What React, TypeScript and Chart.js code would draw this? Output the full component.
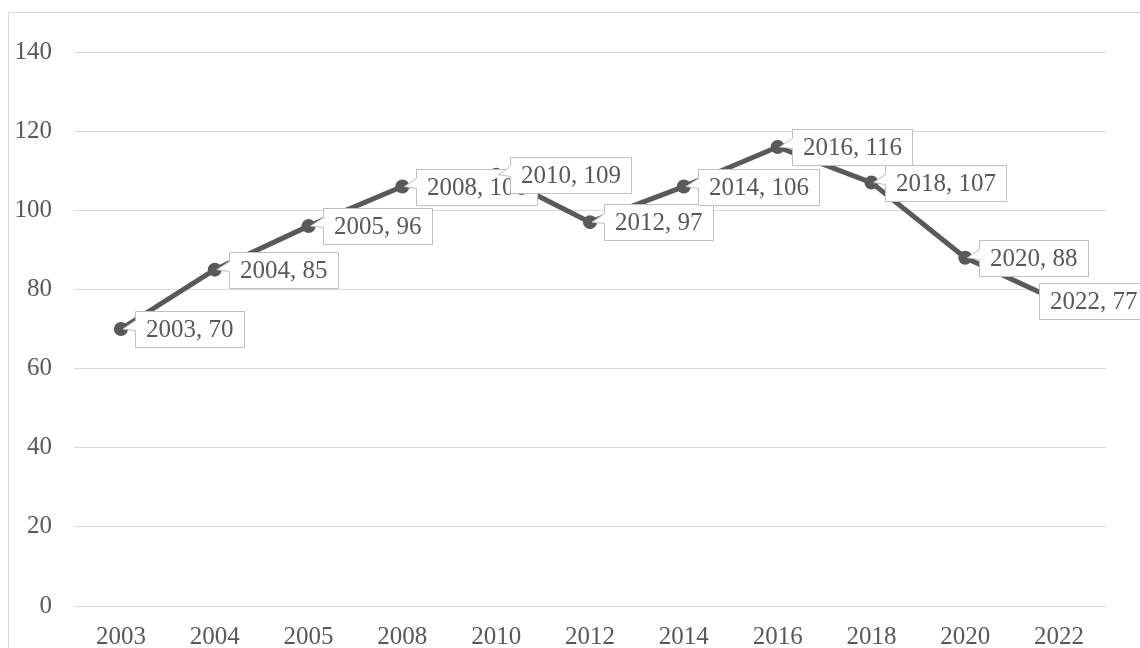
import React, { useEffect, useRef } from "react";
import { Chart, registerables } from "chart.js";

Chart.register(...registerables);

const categories = ["2003", "2004", "2005", "2008", "2010", "2012", "2014", "2016", "2018", "2020", "2022"];
const values = [70, 85, 96, 106, 109, 97, 106, 116, 107, 88, 77];
const yMin = 0;
const yMax = 140;
const yStep = 20;

const FONT = '"Liberation Serif", "DejaVu Serif", serif';
const TEXT = "#595959";

const frame = {
  id: "frame",
  beforeDraw(chart: any) {
    const ctx = chart.ctx;
    ctx.save();
    ctx.fillStyle = "#ffffff";
    ctx.fillRect(0, 0, chart.width, chart.height);
    ctx.strokeStyle = "#d9d9d9";
    ctx.lineWidth = 1;
    ctx.beginPath();
    ctx.moveTo(8.5, chart.height + 5);
    ctx.lineTo(8.5, 12.5);
    ctx.lineTo(chart.width + 5, 12.5);
    ctx.stroke();
    ctx.restore();
  },
};

const callouts = {
  id: "callouts",
  afterDatasetsDraw(chart: any) {
    const ctx = chart.ctx;
    const meta = chart.getDatasetMeta(0);
    ctx.save();
    ctx.font = `25px ${FONT}`;
    meta.data.forEach((pt: any, i: number) => {
      const text = `${categories[i]}, ${values[i]}`;
      const tw = ctx.measureText(text).width;
      const w = Math.round(tw + 21);
      const h = 36;
      let left = Math.round(pt.x + 14) + 0.5;
      const top = Math.round(pt.y - 18) + 0.5;
      const maxRight = chart.width + 8;
      const hasTail = left + w <= maxRight;
      if (!hasTail) left = maxRight - w + 0.5;
      ctx.beginPath();
      ctx.moveTo(left, top);
      ctx.lineTo(left + w, top);
      ctx.lineTo(left + w, top + h);
      ctx.lineTo(left, top + h);
      if (hasTail) {
        ctx.lineTo(left, top + 19);
        ctx.lineTo(pt.x + 2, pt.y);
        ctx.lineTo(left, top + 9);
      }
      ctx.closePath();
      ctx.fillStyle = "#ffffff";
      ctx.fill();
      ctx.strokeStyle = "#bfbfbf";
      ctx.lineWidth = 1;
      ctx.stroke();
      ctx.fillStyle = TEXT;
      ctx.textBaseline = "middle";
      ctx.textAlign = "left";
      ctx.fillText(text, left + 10.5, top + h / 2 + 1);
    });
    ctx.restore();
  },
};

export default function App() {
  const ref = useRef<HTMLCanvasElement | null>(null);
  useEffect(() => {
    if (!ref.current) return;
    const chart = new Chart(ref.current, {
      type: "line",
      data: {
        labels: categories,
        datasets: [
          {
            data: values,
            borderColor: TEXT,
            backgroundColor: TEXT,
            borderWidth: 5,
            pointRadius: 7,
            pointBackgroundColor: TEXT,
            pointBorderColor: TEXT,
            pointBorderWidth: 0,
            borderJoinStyle: "round",
            borderCapStyle: "round",
            tension: 0,
          },
        ],
      },
      options: {
        animation: false,
        responsive: false,
        maintainAspectRatio: false,
        layout: { padding: { left: 0, right: 34, top: 52, bottom: 0 } },
        plugins: { legend: { display: false }, tooltip: { enabled: false } },
        scales: {
          x: {
            offset: true,
            grid: { display: false, drawTicks: false },
            border: { display: false },
            ticks: { color: TEXT, font: { family: FONT, size: 25 }, padding: 16, maxRotation: 0, autoSkip: false },
            afterFit: (s: any) => {
              s.height = 42;
            },
          },
          y: {
            min: yMin,
            max: yMax,
            grid: { color: "#d9d9d9", lineWidth: 1, drawTicks: false },
            border: { display: false },
            ticks: { stepSize: yStep, color: TEXT, font: { family: FONT, size: 25 }, padding: 22 },
            afterFit: (s: any) => {
              s.width = 74;
            },
          },
        },
      },
      plugins: [frame, callouts],
    });
    return () => chart.destroy();
  }, []);
  return (
    <div style={{ position: "fixed", left: 0, top: 0, width: 1140, height: 648 }}>
      <canvas ref={ref} width={1140} height={648} style={{ width: 1140, height: 648, display: "block" }} />
    </div>
  );
}
